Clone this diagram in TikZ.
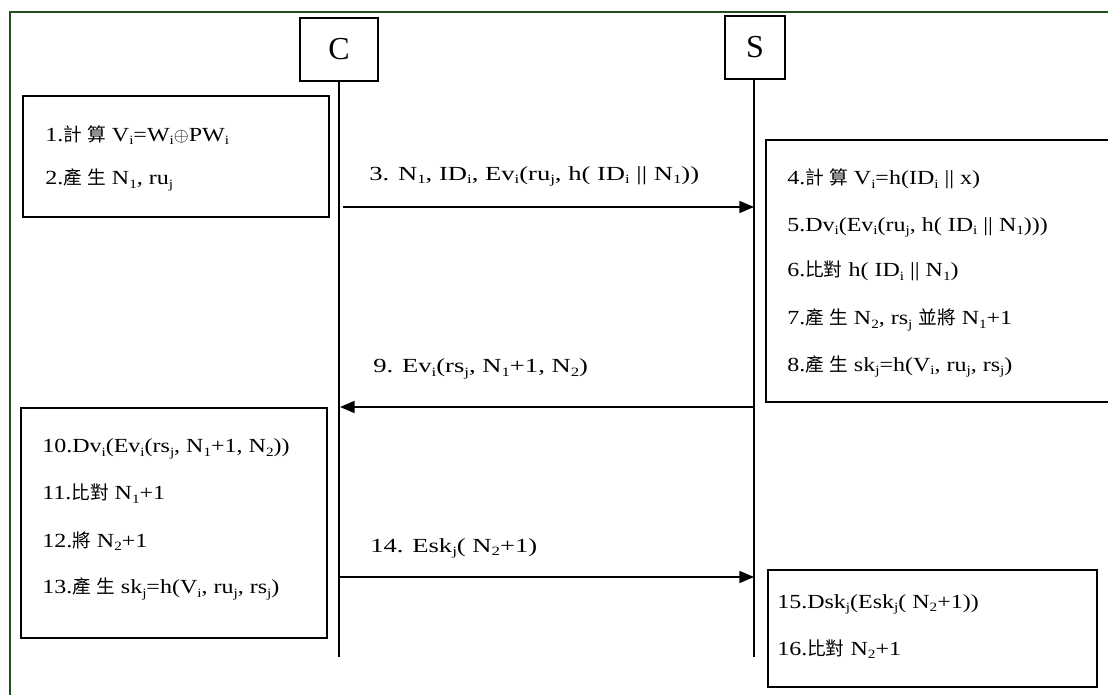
\documentclass[tikz,border=0pt]{standalone}
\usepackage{fontspec}
\setmainfont{Liberation Serif}[FakeStretch=1.2]
\newfontfamily\plainserif{Liberation Serif}
\newfontfamily\lblserif{Liberation Serif}[FakeStretch=1.33]
\newfontfamily\cjk{Noto Sans CJK TC}
\usetikzlibrary{arrows.meta,fit}
\newcommand\sbs[1]{\raisebox{-0.35ex}{\fontsize{9.5}{10}\selectfont #1}}
\newcommand\zh[1]{{\cjk\fontsize{14}{16}\selectfont #1}}
\newcommand\zsp{\hspace{4pt}}
\definecolor{framegreen}{RGB}{30,80,30}
\begin{document}
\begin{tikzpicture}[x=0.75pt,y=-0.75pt,
  procbox/.style={draw,line width=1.2pt,inner sep=0pt},
  actor/.style={draw,line width=1.2pt,inner sep=0pt,font=\plainserif\fontsize{24}{28}\selectfont},
  txt/.style={anchor=base west,inner sep=0pt,font=\fontsize{15}{17}\selectfont},
  lbl/.style={anchor=base west,inner sep=0pt,font=\lblserif\fontsize{15}{17}\selectfont},
  life/.style={line width=1.2pt},
  msg/.style={line width=1.2pt,-{Triangle[length=11pt,width=9pt]}}]
\useasboundingbox (0,0) rectangle (1108,695);
\begin{scope}
\clip (0,0) rectangle (1108,695);
\draw[framegreen, line width=1.5pt] (10,12) rectangle (1130,720);
\coordinate (b2a) at (766,140);
\coordinate (b2b) at (1130,402);
\node[procbox, fit=(b2a)(b2b)] (box2) {};
\end{scope}

% actors
\node[actor, minimum width=58.5pt, minimum height=47.25pt] (cbox) at (339,49.5) {C};
\node[actor, minimum width=45pt, minimum height=47.25pt] (sbox) at (755,47.5) {S};
\coordinate (cend) at (339,657);
\coordinate (send) at (754,657);
\draw[life] (cbox.south -| cend) -- (cend);
\draw[life] (sbox.south -| send) -- (send);

% boxes
\coordinate (b1a) at (23,96);  \coordinate (b1b) at (329,217);
\node[procbox, fit=(b1a)(b1b)] (box1) {};
\coordinate (b3a) at (21,408); \coordinate (b3b) at (327,638);
\node[procbox, fit=(b3a)(b3b)] (box3) {};
\coordinate (b4a) at (768,570); \coordinate (b4b) at (1097,687);
\node[procbox, fit=(b4a)(b4b)] (box4) {};

% box 1 text
\node[txt] (t1) at (45,141.5) {1.\zh{計\zsp 算} V\sbs{i}=W\sbs{i}$\oplus$PW\sbs{i}};
\node[txt] (t2) at (45,185) {2.\zh{產\zsp 生} N\sbs{1}, ru\sbs{j}};

% box 2 text
\node[txt] (t4) at (787,185) {4.\zh{計\zsp 算} V\sbs{i}=h(ID\sbs{i} || x)};
\node[txt] (t5) at (787,231.5) {5.Dv\sbs{i}(Ev\sbs{i}(ru\sbs{j}, h( ID\sbs{i} || N\sbs{1})))};
\node[txt] (t6) at (787,277) {6.\zh{比對} h( ID\sbs{i} || N\sbs{1})};
\node[txt] (t7) at (787,325) {7.\zh{產\zsp 生} N\sbs{2}, rs\sbs{j} \zh{並將} N\sbs{1}+1};
\node[txt] (t8) at (787,371.5) {8.\zh{產\zsp 生} sk\sbs{j}=h(V\sbs{i}, ru\sbs{j}, rs\sbs{j})};

% box 3 text
\node[txt] (t10) at (42,453) {10.Dv\sbs{i}(Ev\sbs{i}(rs\sbs{j}, N\sbs{1}+1, N\sbs{2}))};
\node[txt] (t11) at (42,500) {11.\zh{比對} N\sbs{1}+1};
\node[txt] (t12) at (42,547) {12.\zh{將} N\sbs{2}+1};
\node[txt] (t13) at (42,594) {13.\zh{產\zsp 生} sk\sbs{j}=h(V\sbs{i}, ru\sbs{j}, rs\sbs{j})};

% box 4 text
\node[txt] (t15) at (777,608) {15.Dsk\sbs{j}(Esk\sbs{j}( N\sbs{2}+1))};
\node[txt] (t16) at (777,655) {16.\zh{比對} N\sbs{2}+1};

% messages
\coordinate (m3a) at (343,207);  \coordinate (m3b) at (754,207);
\coordinate (m9a) at (754,407);  \coordinate (m9b) at (340,407);
\coordinate (m14a) at (339,577); \coordinate (m14b) at (754,577);
\draw[msg] (m3a) -- (m3b);
\draw[msg] (m9a) -- (m9b);
\draw[msg] (m14a) -- (m14b);
\node[lbl] (l3) at (369,180.5) {3. N\sbs{1}, ID\sbs{i}, Ev\sbs{i}(ru\sbs{j}, h( ID\sbs{i} || N\sbs{1}))};
\node[lbl] (l9) at (373,373) {9. Ev\sbs{i}(rs\sbs{j}, N\sbs{1}+1, N\sbs{2})};
\node[lbl] (l14) at (370,552) {14. Esk\sbs{j}( N\sbs{2}+1)};
\end{tikzpicture}
\end{document}
